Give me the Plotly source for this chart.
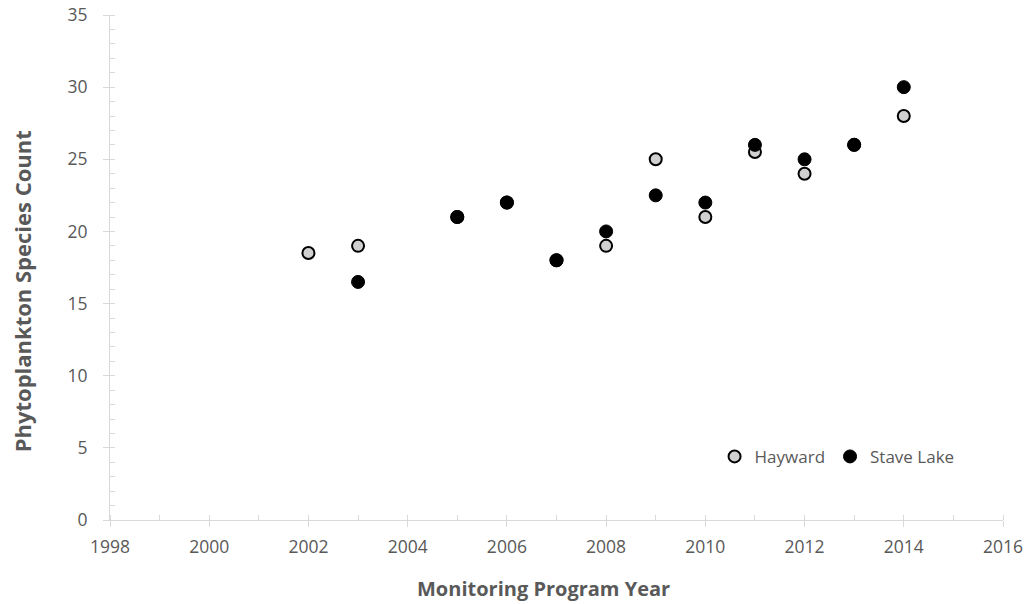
import plotly.graph_objects as go

# data
hayward_years = [2002, 2003, 2005, 2006, 2007, 2008, 2009, 2010, 2011, 2012, 2013, 2014]
hayward_count = [18.5, 19, 21, 22, 18, 19, 25, 21, 25.5, 24, 26, 28]

stave_years = [2003, 2005, 2006, 2007, 2008, 2009, 2010, 2011, 2012, 2013, 2014]
stave_count = [16.5, 21, 22, 18, 20, 22.5, 22, 26, 25, 26, 30]

font_family = "Open Sans, Noto Sans, sans-serif"
axis_color = "#d9d9d9"
text_color = "#595959"

fig = go.Figure()
fig.add_trace(go.Scatter(
    x=hayward_years, y=hayward_count, mode="markers", name="Hayward",
    marker=dict(size=12, color="#d0d0d0", line=dict(color="black", width=2)),
))
fig.add_trace(go.Scatter(
    x=stave_years, y=stave_count, mode="markers", name="Stave Lake",
    marker=dict(size=13, color="black", line=dict(color="black", width=1)),
))

fig.update_layout(
    width=1028, height=604,
    margin=dict(l=110, r=25, t=15, b=84),
    paper_bgcolor="white", plot_bgcolor="white",
    font=dict(family=font_family, size=17, color=text_color),
    legend=dict(orientation="h", x=0.677, y=0.125, xanchor="left", yanchor="middle",
                font=dict(size=17, color=text_color), bgcolor="rgba(0,0,0,0)",
                itemwidth=30),
)
fig.update_xaxes(
    range=[1998, 2016], dtick=2, tick0=1998, automargin=False,
    showgrid=False, zeroline=False,
    showline=True, linecolor=axis_color, linewidth=1,
    ticks="outside", ticklen=6, tickcolor=axis_color,
    tickfont=dict(size=17.5, color=text_color),
    ticklabelstandoff=5, ticklabeloverflow="allow",
    minor=dict(dtick=1, ticks="inside", ticklen=5, tickcolor=axis_color),
)
fig.update_yaxes(
    range=[0, 35], dtick=5, automargin=False,
    showgrid=False, zeroline=False,
    showline=True, linecolor=axis_color, linewidth=1,
    ticks="outside", ticklen=6, tickcolor=axis_color,
    tickfont=dict(size=17.5, color=text_color),
    ticklabelstandoff=12, ticklabeloverflow="allow",
    minor=dict(dtick=1, ticks="inside", ticklen=5, tickcolor=axis_color),
)

# axis titles placed as in the reference (slightly off-centre)
fig.add_annotation(text="<b>Monitoring Program Year</b>", xref="paper", yref="paper",
                   x=0.485, y=-0.135, xanchor="center", yanchor="middle", showarrow=False,
                   font=dict(size=20, color=text_color))
fig.add_annotation(text="<b>Phytoplankton Species Count</b>", xref="paper", yref="paper",
                   x=-0.099, y=0.452, xanchor="center", yanchor="middle", showarrow=False,
                   textangle=-90, font=dict(size=22, color=text_color))

# drop the default body margin so the figure fills the window exactly
fig.write_html("out.html", config={"displayModeBar": False},
               post_script="document.body.style.margin='0';document.body.style.overflow='hidden';")
